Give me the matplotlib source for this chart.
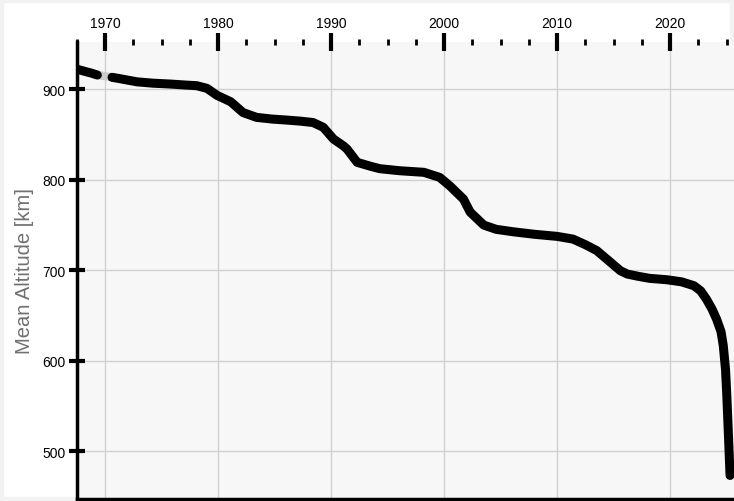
import numpy as np
import matplotlib.pyplot as plt
from matplotlib.ticker import MultipleLocator

plt.rcParams['font.family'] = ['Liberation Sans', 'DejaVu Sans']

# early record, before the data gap
early_year = [1967.5, 1968.2, 1968.8, 1969.3]
early_alt = [922, 919.5, 917.5, 915.5]

# main record
year = [1970.6, 1971.5, 1972.8, 1974.2, 1975.8, 1977.0, 1978.1, 1979.0, 1979.9,
        1981.1, 1982.2, 1983.4, 1984.8, 1986.1, 1987.3, 1988.4, 1989.3, 1990.2,
        1991.1, 1991.4, 1992.3, 1993.5, 1994.3, 1996.1, 1998.2, 1999.6, 2000.5,
        2001.7, 2002.3, 2003.5, 2004.6, 2006.1, 2008.0, 2010.0, 2011.4, 2012.5,
        2013.5, 2014.4, 2015.6, 2016.2, 2017.2, 2018.2, 2019.7, 2021.0, 2022.1,
        2022.7, 2023.2, 2023.7, 2024.1, 2024.5, 2024.7, 2024.9, 2025.0, 2025.15,
        2025.3]
alt = [913, 911, 908, 906.5, 905.5, 904.5, 903.7, 900.8, 893,
       886, 874, 868.7, 866.8, 865.7, 864.5, 863, 857.7, 844.8,
       837, 833.7, 819, 814.6, 812, 809.7, 808, 802.4, 793,
       778.5, 764, 749.7, 745, 742.3, 739.5, 737.2, 734.2, 728,
       721.5, 712, 699.2, 695.6, 693, 690.8, 689.3, 687, 682.7,
       677, 668, 657, 646, 632, 616.6, 590, 565, 520,
       473]

fig = plt.figure(figsize=(7.34, 5.02), dpi=100)
fig.patch.set_facecolor('white')
ax = fig.add_axes([77 / 734, 2 / 502, 657 / 734, 457 / 502])
ax.set_facecolor('#f7f7f7')

ax.plot([early_year[-1], year[0]], [early_alt[-1], alt[0]], color='#cccccc',
        lw=6, solid_capstyle='round', zorder=2)
ax.plot(early_year, early_alt, color='black', lw=6.5, solid_capstyle='round',
        solid_joinstyle='round', zorder=3)
ax.plot(year, alt, color='black', lw=6.5, solid_capstyle='round',
        solid_joinstyle='round', zorder=3)

ax.set_xlim(1967.5, 2025.65)
ax.set_ylim(447, 952)

ax.xaxis.tick_top()
ax.xaxis.set_major_locator(MultipleLocator(10))
ax.xaxis.set_minor_locator(MultipleLocator(2.5))
ax.yaxis.set_major_locator(MultipleLocator(100))
ax.tick_params(axis='x', which='major', direction='inout', length=13, width=3,
               labelsize=10, pad=2, colors='black')
ax.tick_params(axis='x', which='minor', direction='inout', length=5, width=2)
ax.tick_params(axis='y', which='major', direction='inout', length=12, width=3,
               labelsize=10, pad=2)
ax.tick_params(axis='y', which='minor', left=False)

ax.grid(True, which='major', color='#d0d0d0', lw=1, zorder=0)
ax.set_axisbelow(True)

for s in ['top', 'right']:
    ax.spines[s].set_visible(False)
ax.spines['left'].set_linewidth(2.5)
ax.spines['bottom'].set_linewidth(2.5)

ax.set_ylabel('Mean Altitude [km]', fontsize=14.5, color='#707070', labelpad=6)

fig.patches.append(plt.Rectangle((0, 0), 1, 1, transform=fig.transFigure,
                                 fill=False, edgecolor='#f2f2f2', lw=6, zorder=-1))

fig.savefig('out.png', dpi=100)
